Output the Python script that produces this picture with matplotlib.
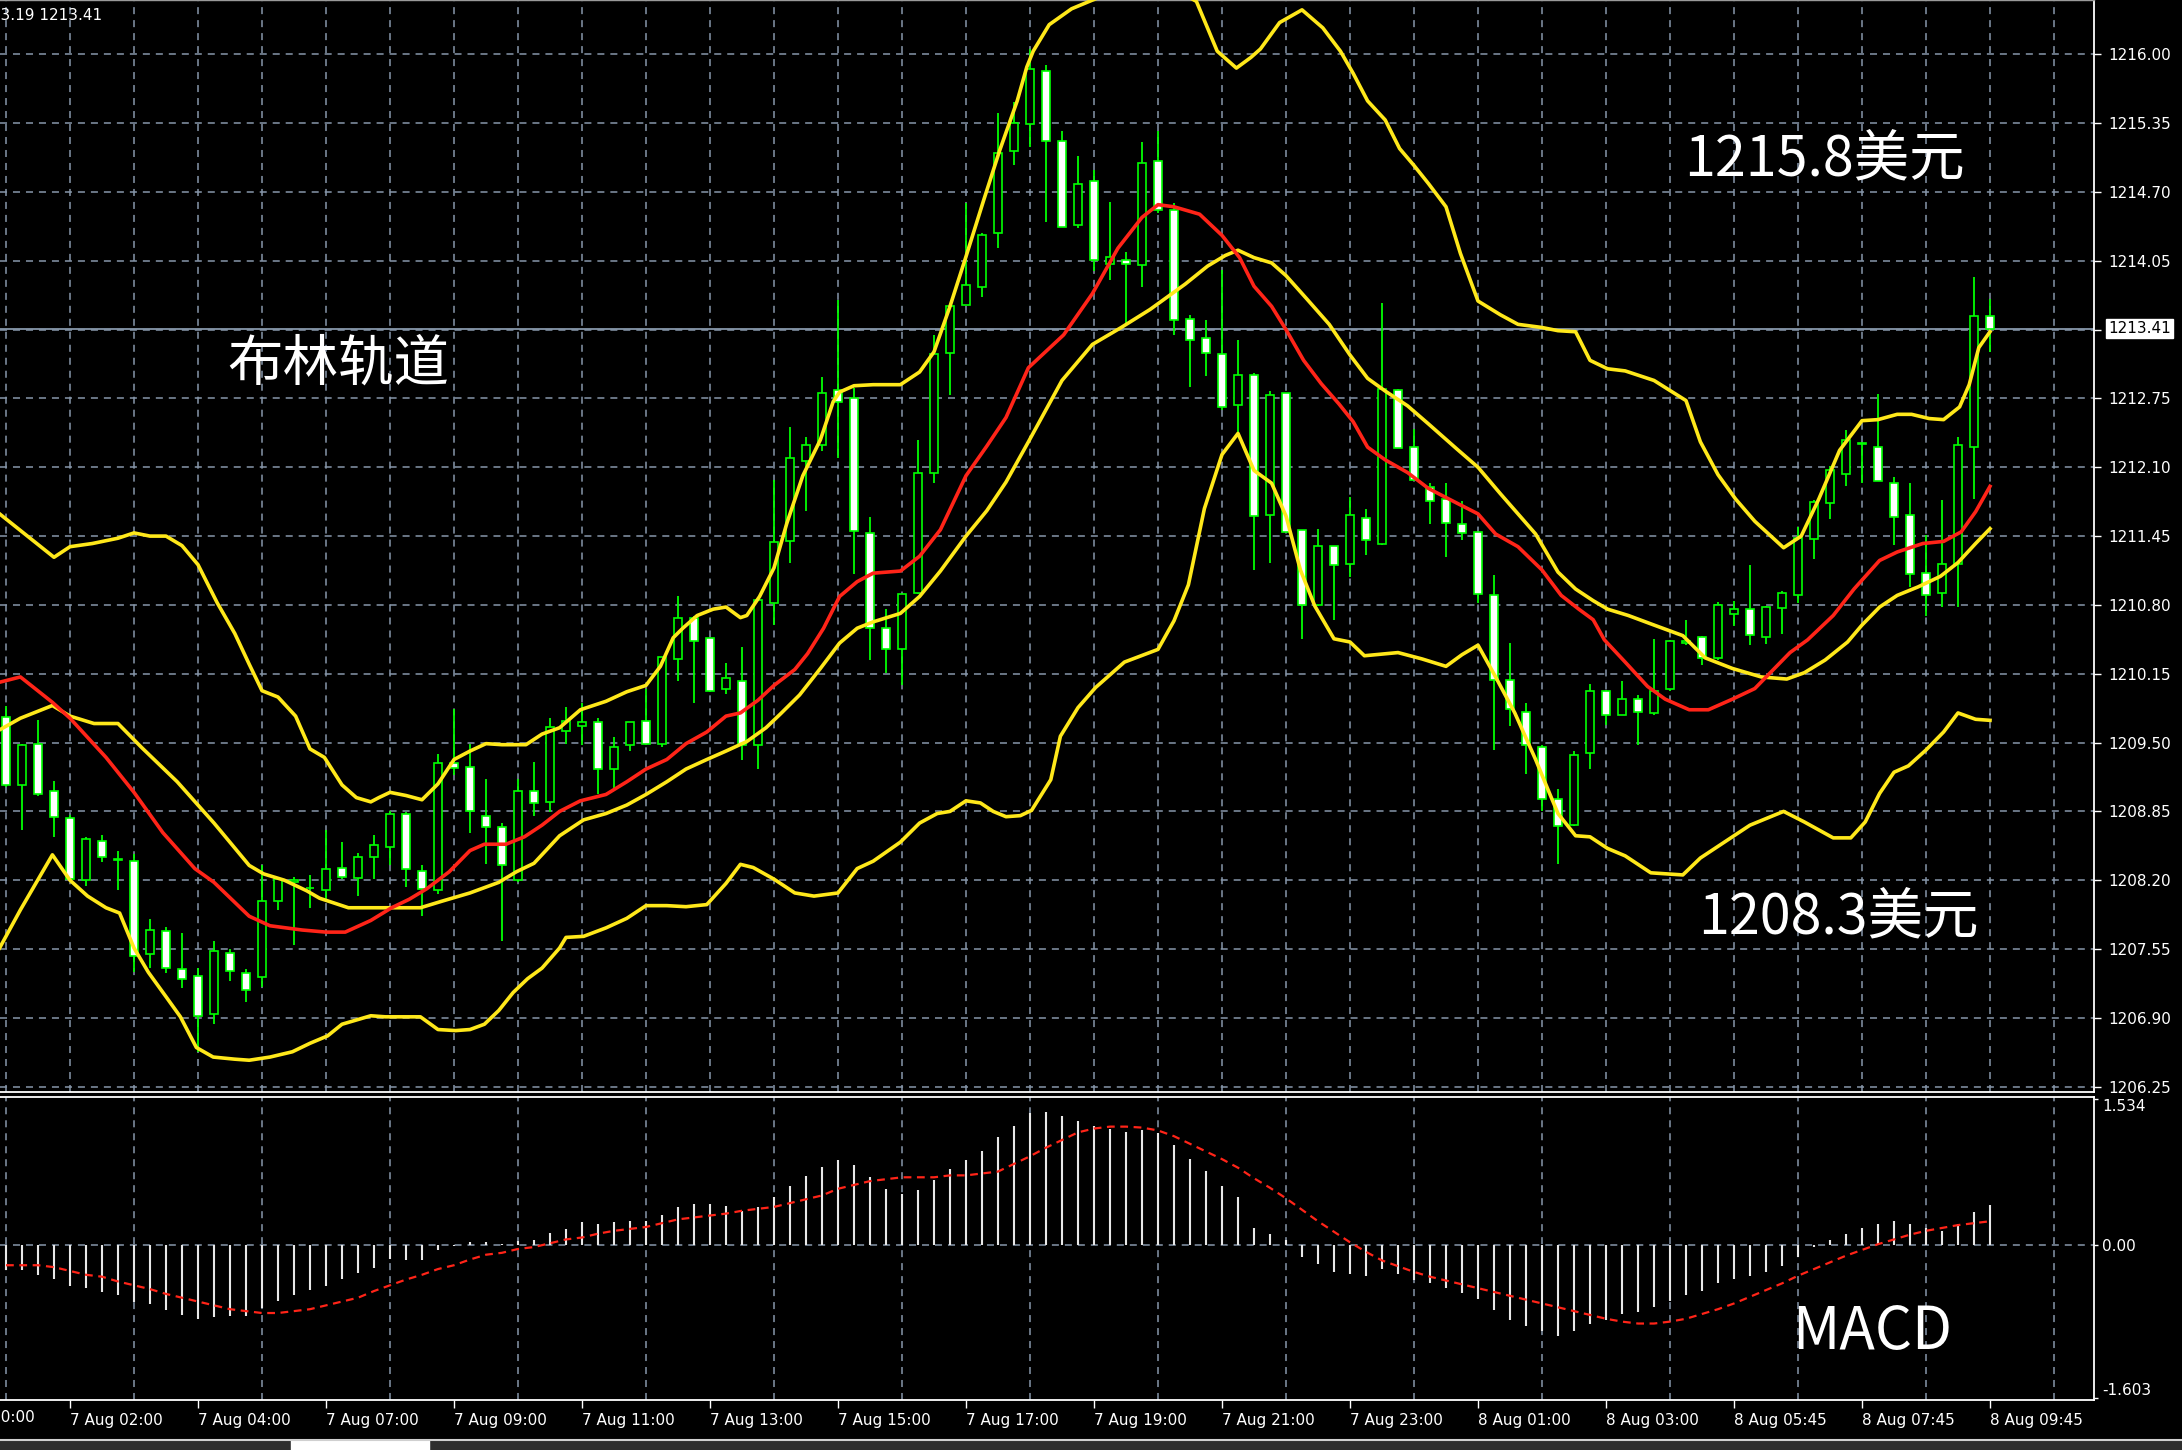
import numpy as np
import matplotlib.pyplot as plt
from matplotlib.patches import Rectangle
from matplotlib.lines import Line2D
from matplotlib.transforms import blended_transform_factory

plt.rcParams['font.family'] = ['DejaVu Sans', 'Noto Sans CJK SC']
CJK = ['Noto Sans CJK SC', 'DejaVu Sans']

# ---- 15 min candles (bar index 0 .. 124) ----
opens = [1209.74, 1209.10, 1209.49, 1209.04, 1208.79, 1208.20, 1208.57, 1208.40, 1208.38, 1207.50,
         1207.72, 1207.36, 1207.30, 1206.94, 1207.51, 1207.32, 1207.29, 1208.00, 1208.18, 1208.13,
         1208.11, 1208.32, 1208.22, 1208.42, 1208.51, 1208.83, 1208.29, 1208.11, 1209.31, 1209.27,
         1208.81, 1208.70, 1208.20, 1209.04, 1208.94, 1209.61, 1209.66, 1209.69, 1209.25, 1209.48,
         1209.70, 1209.49, 1210.29, 1210.68, 1210.49, 1210.01, 1210.08, 1209.48, 1210.82, 1211.40,
         1212.16, 1212.31, 1212.83, 1212.75, 1211.48, 1210.58, 1210.38, 1210.91, 1212.05, 1213.18,
         1213.63, 1213.80, 1214.31, 1215.09, 1215.34, 1215.84, 1215.18, 1214.39, 1214.80, 1214.02,
         1214.06, 1214.01, 1214.99, 1214.53, 1213.50, 1213.32, 1213.17, 1212.69, 1212.97, 1211.65,
         1212.80, 1211.51, 1210.80, 1211.36, 1211.19, 1211.62, 1211.38, 1212.83, 1212.29, 1211.91,
         1211.80, 1211.56, 1211.49, 1210.89, 1210.09, 1209.79, 1209.46, 1208.97, 1208.72, 1209.40,
         1209.99, 1209.76, 1209.91, 1209.78, 1210.01, 1210.44, 1210.50, 1210.30, 1210.71, 1210.76,
         1210.50, 1210.77, 1210.89, 1211.42, 1211.76, 1212.04, 1212.33, 1212.29, 1211.95, 1211.65,
         1211.10, 1210.91, 1211.19, 1212.29, 1213.53]
highs = [1209.85, 1209.49, 1209.71, 1209.14, 1208.82, 1208.61, 1208.63, 1208.48, 1208.45, 1207.83,
         1207.76, 1207.70, 1207.37, 1207.63, 1207.55, 1207.36, 1208.34, 1208.23, 1208.23, 1208.25,
         1208.67, 1208.56, 1208.46, 1208.63, 1208.85, 1208.84, 1208.34, 1209.39, 1209.82, 1209.49,
         1209.16, 1208.74, 1209.16, 1209.32, 1209.73, 1209.84, 1209.87, 1209.73, 1209.55, 1209.69,
         1210.01, 1210.31, 1210.88, 1210.70, 1210.49, 1210.25, 1210.40, 1210.85, 1211.98, 1212.48,
         1212.39, 1212.95, 1213.68, 1212.85, 1211.63, 1210.76, 1210.90, 1212.36, 1213.35, 1213.63,
         1214.60, 1214.31, 1215.45, 1215.55, 1216.05, 1215.90, 1215.28, 1215.04, 1214.91, 1214.61,
         1214.13, 1215.17, 1215.28, 1214.60, 1213.54, 1213.49, 1213.96, 1213.30, 1212.99, 1212.82,
         1212.80, 1211.51, 1211.52, 1211.36, 1211.82, 1211.71, 1213.65, 1212.84, 1212.46, 1211.95,
         1211.95, 1211.78, 1211.49, 1211.08, 1210.44, 1209.87, 1209.48, 1209.06, 1209.42, 1210.05,
         1210.00, 1210.08, 1209.95, 1210.48, 1210.47, 1210.66, 1210.51, 1210.83, 1210.84, 1211.18,
         1210.79, 1210.93, 1211.54, 1211.79, 1212.11, 1212.45, 1212.34, 1212.79, 1212.01, 1211.95,
         1211.46, 1211.79, 1212.39, 1213.90, 1213.69]
lows = [1209.08, 1208.67, 1209.00, 1208.61, 1208.20, 1208.15, 1208.37, 1208.11, 1207.33, 1207.37,
        1207.32, 1207.18, 1206.58, 1206.84, 1207.25, 1207.05, 1207.19, 1207.92, 1207.59, 1207.94,
        1207.99, 1208.21, 1208.05, 1208.21, 1208.34, 1208.14, 1207.86, 1208.07, 1209.19, 1208.65,
        1208.35, 1207.63, 1208.18, 1208.81, 1208.84, 1209.49, 1209.48, 1209.01, 1209.07, 1209.42,
        1209.48, 1209.46, 1210.08, 1209.87, 1209.98, 1209.96, 1209.34, 1209.25, 1210.61, 1211.20,
        1211.69, 1212.25, 1212.19, 1211.09, 1210.28, 1210.16, 1210.04, 1210.90, 1211.95, 1212.78,
        1213.63, 1213.71, 1214.17, 1214.95, 1215.12, 1214.42, 1214.37, 1214.36, 1213.95, 1213.87,
        1213.46, 1213.80, 1214.50, 1213.35, 1212.86, 1212.96, 1212.64, 1212.43, 1211.13, 1211.20,
        1211.49, 1210.48, 1210.79, 1210.66, 1211.06, 1211.27, 1211.37, 1212.28, 1211.98, 1211.56,
        1211.25, 1211.41, 1210.82, 1209.43, 1209.66, 1209.20, 1208.85, 1208.35, 1208.71, 1209.25,
        1209.67, 1209.76, 1209.48, 1209.76, 1209.99, 1210.42, 1210.23, 1210.28, 1210.60, 1210.42,
        1210.43, 1210.53, 1210.82, 1211.23, 1211.61, 1211.92, 1211.95, 1211.97, 1211.37, 1210.97,
        1210.70, 1210.78, 1210.78, 1211.80, 1213.19]
closes = [1209.10, 1209.48, 1209.01, 1208.80, 1208.21, 1208.59, 1208.42, 1208.39, 1207.48, 1207.73,
          1207.37, 1207.27, 1206.92, 1207.53, 1207.34, 1207.16, 1208.00, 1208.21, 1208.20, 1208.13,
          1208.31, 1208.23, 1208.42, 1208.53, 1208.83, 1208.31, 1208.12, 1209.31, 1209.26, 1208.85,
          1208.70, 1208.34, 1209.04, 1208.93, 1209.65, 1209.70, 1209.69, 1209.25, 1209.46, 1209.69,
          1209.49, 1210.31, 1210.68, 1210.46, 1209.99, 1210.11, 1209.48, 1210.85, 1211.39, 1212.19,
          1212.31, 1212.80, 1212.72, 1211.50, 1210.58, 1210.38, 1210.90, 1212.05, 1213.17, 1213.62,
          1213.82, 1214.29, 1215.07, 1215.35, 1215.86, 1215.18, 1214.37, 1214.78, 1214.06, 1214.09,
          1214.02, 1214.97, 1214.53, 1213.49, 1213.30, 1213.18, 1212.67, 1212.97, 1211.64, 1212.78,
          1211.49, 1210.80, 1211.36, 1211.18, 1211.65, 1211.41, 1212.84, 1212.28, 1211.98, 1211.78,
          1211.57, 1211.48, 1210.90, 1210.09, 1209.82, 1209.48, 1208.97, 1208.71, 1209.38, 1209.99,
          1209.76, 1209.91, 1209.79, 1209.99, 1210.46, 1210.46, 1210.30, 1210.80, 1210.76, 1210.52,
          1210.78, 1210.91, 1211.43, 1211.77, 1212.07, 1212.36, 1212.32, 1211.97, 1211.63, 1211.09,
          1210.89, 1211.19, 1212.31, 1213.53, 1213.41]

# ---- Bollinger bands (yellow) and red moving average, read at bar positions ----
upper_x = [-0.4, 3, 4, 5.4, 7, 8, 9, 10, 11, 12, 13.2, 14.3, 15.2, 16, 17, 18.1, 19, 19.9, 21, 21.9,
           22.8, 23.3, 24, 25, 26, 27, 28, 29, 30, 31, 32.5, 33.5, 34.6, 35.9, 37.5, 38.8, 40, 40.9,
           41.7, 42.3, 43.2, 44.2, 45, 45.9, 46.3, 47.1, 48, 48.8, 49.8, 50.9, 51.7, 52.1, 53, 54.2,
           55.9, 57.1, 58, 59, 60, 61.1, 62.1, 63.2, 63.8, 64.2, 65.2, 66.6, 68.5, 71.5, 74.4, 75.7,
           76.9, 77.8, 78.4, 79.6, 81, 82.3, 83.4, 84.2, 85.1, 86.2, 87.1, 88, 88.9, 90, 90.9, 92,
           93.4, 94.5, 96, 97, 98.1, 99, 100.1, 101.2, 103, 105, 105.9, 107, 108.1, 109.3, 111.1,
           112.2, 113.3, 114.6, 116, 117, 118.2, 119.1, 120.2, 121.1, 122.1, 122.7, 123.3, 124]
upper_y = [1211.66, 1211.25, 1211.35, 1211.38, 1211.43, 1211.48, 1211.45, 1211.45, 1211.36, 1211.18,
           1210.82, 1210.53, 1210.24, 1209.99, 1209.93, 1209.75, 1209.44, 1209.36, 1209.10, 1208.98,
           1208.94, 1208.98, 1209.03, 1209.00, 1208.96, 1209.11, 1209.34, 1209.42, 1209.49, 1209.48,
           1209.48, 1209.58, 1209.64, 1209.81, 1209.89, 1209.98, 1210.04, 1210.22, 1210.49, 1210.58,
           1210.70, 1210.76, 1210.78, 1210.68, 1210.70, 1210.88, 1211.15, 1211.57, 1212.02, 1212.36,
           1212.72, 1212.81, 1212.87, 1212.88, 1212.88, 1213.00, 1213.19, 1213.62, 1214.09, 1214.62,
           1215.09, 1215.56, 1215.88, 1216.03, 1216.28, 1216.43, 1216.55, 1216.75, 1216.50, 1216.03,
           1215.87, 1215.97, 1216.05, 1216.30, 1216.42, 1216.25, 1216.03, 1215.82, 1215.56, 1215.38,
           1215.11, 1214.95, 1214.78, 1214.56, 1214.12, 1213.67, 1213.54, 1213.45, 1213.42, 1213.39,
           1213.38, 1213.11, 1213.03, 1213.01, 1212.92, 1212.73, 1212.34, 1212.03, 1211.80, 1211.59,
           1211.34, 1211.45, 1211.80, 1212.26, 1212.54, 1212.55, 1212.60, 1212.60, 1212.56, 1212.55,
           1212.67, 1212.88, 1213.23, 1213.38]

middle_x = [-0.4, 0.9, 2.9, 4, 5.5, 7, 8.5, 10.7, 13, 15.2, 16.1, 17.4, 18.8, 19.6, 21.4, 24, 25.9,
            27.2, 29, 30.8, 31.9, 33, 34.6, 36.1, 37.5, 38.8, 40, 41.3, 42.5, 43.8, 45, 46.3, 47.5,
            48.4, 49.6, 50.9, 52.1, 53.2, 54.2, 55.9, 57.1, 58.4, 60, 61.3, 62.5, 63.9, 66, 67.9, 69.7,
            71.5, 73.7, 75.1, 76.2, 77, 78, 79.1, 80, 81.3, 82.7, 84, 85.1, 86.2, 87.6, 88.9, 90.7, 92,
            93.4, 94.5, 95.6, 97, 98.1, 99.2, 100.1, 101.4, 103, 104.8, 106.2, 107.9, 109.7, 111.3,
            112.4, 113.7, 115.1, 116, 117.1, 118.2, 119.5, 120.9, 122, 123.1, 124]
middle_y = [1209.62, 1209.73, 1209.85, 1209.75, 1209.68, 1209.68, 1209.45, 1209.13, 1208.74, 1208.34,
            1208.26, 1208.20, 1208.10, 1208.03, 1207.94, 1207.94, 1207.94, 1208.00, 1208.08, 1208.18,
            1208.28, 1208.36, 1208.62, 1208.77, 1208.83, 1208.91, 1209.01, 1209.13, 1209.25, 1209.34,
            1209.42, 1209.51, 1209.64, 1209.77, 1209.95, 1210.20, 1210.44, 1210.58, 1210.64, 1210.72,
            1210.88, 1211.12, 1211.45, 1211.69, 1211.96, 1212.34, 1212.92, 1213.26, 1213.42, 1213.59,
            1213.83, 1214.00, 1214.10, 1214.15, 1214.08, 1214.03, 1213.91, 1213.69, 1213.45, 1213.16,
            1212.94, 1212.82, 1212.68, 1212.51, 1212.27, 1212.10, 1211.85, 1211.66, 1211.47, 1211.11,
            1210.95, 1210.84, 1210.76, 1210.70, 1210.61, 1210.51, 1210.30, 1210.20, 1210.12, 1210.10,
            1210.16, 1210.28, 1210.45, 1210.61, 1210.78, 1210.89, 1210.97, 1211.07, 1211.20, 1211.38,
            1211.52]

lower_x = [-0.4, 0.9, 2.9, 4, 5.1, 6.25, 7.1, 8, 8.9, 10, 10.9, 11.9, 12.95, 14.3, 15.2, 16.5, 17.9,
           19, 20.1, 21, 21.9, 22.8, 23.7, 25.9, 27, 28.1, 29, 29.9, 30.8, 31.7, 32.6, 33.5, 34.6, 35,
           36.1, 37.5, 38.8, 40, 41.3, 42.5, 43.8, 45, 45.9, 46.7, 48, 49.3, 50.5, 52, 53.2, 54.2,
           55.9, 57.1, 58.2, 59, 60, 60.9, 61.7, 62.5, 63.4, 64.1, 65.3, 65.9, 67, 68.1, 69.9, 72, 73,
           73.9, 74.9, 76, 77, 78, 79.1, 80, 80.9, 81.8, 83, 84, 84.9, 87, 88.5, 90, 91, 92, 93.1,
           94.3, 95.6, 96.5, 97, 98.1, 99, 100.1, 101.2, 102.8, 104.8, 105.9, 107, 109, 111.1, 112.4,
           114.2, 115.3, 116.2, 117.1, 118, 118.9, 120, 121.1, 122, 123.1, 124]
lower_y = [1207.56, 1207.92, 1208.44, 1208.20, 1208.05, 1207.94, 1207.89, 1207.56, 1207.33, 1207.10,
           1206.91, 1206.62, 1206.53, 1206.51, 1206.50, 1206.53, 1206.58, 1206.66, 1206.73, 1206.84,
           1206.88, 1206.92, 1206.91, 1206.91, 1206.79, 1206.78, 1206.79, 1206.84, 1206.97, 1207.14,
           1207.27, 1207.37, 1207.56, 1207.66, 1207.67, 1207.75, 1207.84, 1207.96, 1207.96, 1207.95,
           1207.97, 1208.17, 1208.35, 1208.32, 1208.21, 1208.08, 1208.05, 1208.08, 1208.31, 1208.38,
           1208.56, 1208.74, 1208.83, 1208.85, 1208.95, 1208.93, 1208.85, 1208.80, 1208.81, 1208.86,
           1209.15, 1209.56, 1209.83, 1210.02, 1210.26, 1210.38, 1210.65, 1210.99, 1211.71, 1212.22,
           1212.42, 1212.07, 1211.95, 1211.64, 1211.13, 1210.79, 1210.48, 1210.45, 1210.32, 1210.35,
           1210.29, 1210.22, 1210.33, 1210.42, 1210.12, 1209.78, 1209.34, 1209.01, 1208.83, 1208.62,
           1208.61, 1208.50, 1208.43, 1208.27, 1208.25, 1208.41, 1208.52, 1208.72, 1208.85, 1208.75,
           1208.60, 1208.60, 1208.75, 1209.02, 1209.22, 1209.28, 1209.43, 1209.60, 1209.78, 1209.72,
           1209.71]

ma_x = [-0.4, 0.9, 2.9, 4, 6.25, 8, 9.8, 11.8, 13, 15.2, 16.5, 18.5, 20, 21.2, 22.8, 24.1, 25.2, 26.3,
        27.7, 29, 29.9, 31.25, 32.4, 33.5, 34.6, 35.9, 37.5, 38.8, 40, 41.3, 42.5, 43.8, 45, 45.9, 47,
        48, 49.3, 50.1, 51.1, 52.1, 53.2, 54.2, 55.9, 57.1, 58.4, 60, 61.3, 62.5, 63.9, 66.1, 67.9,
        69.5, 71, 72, 73, 74.6, 76, 77.1, 78, 79.1, 80, 81.1, 82.2, 83.3, 84.2, 85.1, 86.2, 87.6, 88.9,
        90.7, 92, 93.1, 94.5, 96, 97.2, 98.3, 99.2, 99.9, 101.2, 102.6, 103.7, 105.2, 106.4, 107.9,
        109.3, 110.4, 111.5, 112.6, 114.2, 115.5, 117.1, 118.2, 119.8, 121.1, 122.2, 123.1, 124]
ma_y = [1210.07, 1210.12, 1209.88, 1209.73, 1209.36, 1209.03, 1208.65, 1208.31, 1208.18, 1207.86,
        1207.77, 1207.73, 1207.71, 1207.71, 1207.82, 1207.94, 1208.02, 1208.12, 1208.28, 1208.48,
        1208.54, 1208.54, 1208.61, 1208.72, 1208.85, 1208.95, 1209.01, 1209.13, 1209.25, 1209.34,
        1209.49, 1209.60, 1209.75, 1209.78, 1209.90, 1210.04, 1210.19, 1210.34, 1210.58, 1210.88,
        1211.02, 1211.10, 1211.12, 1211.26, 1211.51, 1212.02, 1212.30, 1212.57, 1213.04, 1213.35,
        1213.74, 1214.17, 1214.46, 1214.58, 1214.56, 1214.49, 1214.29, 1214.08, 1213.81, 1213.62,
        1213.40, 1213.11, 1212.89, 1212.70, 1212.53, 1212.29, 1212.17, 1212.05, 1211.90, 1211.76,
        1211.66, 1211.47, 1211.35, 1211.13, 1210.89, 1210.76, 1210.66, 1210.47, 1210.26, 1210.03,
        1209.91, 1209.81, 1209.81, 1209.91, 1210.01, 1210.18, 1210.35, 1210.47, 1210.70, 1210.95,
        1211.22, 1211.30, 1211.38, 1211.40, 1211.49, 1211.68, 1211.92]

# ---- MACD ----
macd_hist = [-0.26, -0.26, -0.31, -0.35, -0.43, -0.45, -0.49, -0.52, -0.59, -0.62, -0.68, -0.73,
             -0.77, -0.75, -0.74, -0.74, -0.66, -0.58, -0.52, -0.47, -0.43, -0.35, -0.29, -0.24,
             -0.14, -0.16, -0.16, -0.05, -0.01, 0.03, 0.03, 0.01, 0.04, 0.05, 0.13, 0.17, 0.24,
             0.22, 0.24, 0.25, 0.25, 0.32, 0.40, 0.43, 0.43, 0.41, 0.36, 0.40, 0.50, 0.62, 0.72,
             0.82, 0.89, 0.84, 0.71, 0.59, 0.53, 0.58, 0.68, 0.80, 0.89, 0.99, 1.13, 1.25, 1.38,
             1.39, 1.35, 1.30, 1.25, 1.22, 1.18, 1.20, 1.17, 1.05, 0.90, 0.78, 0.62, 0.50, 0.18,
             0.12, 0.05, -0.12, -0.20, -0.28, -0.30, -0.32, -0.25, -0.30, -0.36, -0.40, -0.45,
             -0.50, -0.56, -0.68, -0.78, -0.85, -0.90, -0.95, -0.90, -0.82, -0.78, -0.72, -0.70,
             -0.65, -0.58, -0.52, -0.48, -0.40, -0.35, -0.32, -0.28, -0.22, -0.12, -0.02, 0.05,
             0.12, 0.18, 0.22, 0.25, 0.22, 0.18, 0.15, 0.22, 0.35, 0.42]
macd_signal = [-0.21, -0.21, -0.21, -0.23, -0.27, -0.31, -0.33, -0.38, -0.42, -0.46, -0.51, -0.55,
               -0.59, -0.63, -0.67, -0.69, -0.71, -0.71, -0.69, -0.67, -0.63, -0.59, -0.55, -0.48,
               -0.42, -0.36, -0.31, -0.25, -0.21, -0.15, -0.10, -0.08, -0.04, -0.02, 0.02, 0.06,
               0.08, 0.12, 0.15, 0.17, 0.19, 0.23, 0.27, 0.29, 0.31, 0.33, 0.36, 0.38, 0.40, 0.44,
               0.48, 0.52, 0.59, 0.63, 0.67, 0.69, 0.71, 0.71, 0.71, 0.73, 0.73, 0.75, 0.77, 0.85,
               0.93, 1.02, 1.10, 1.18, 1.22, 1.24, 1.24, 1.23, 1.20, 1.14, 1.06, 0.98, 0.90, 0.81,
               0.70, 0.60, 0.49, 0.37, 0.25, 0.14, 0.03, -0.07, -0.16, -0.22, -0.28, -0.33, -0.37,
               -0.41, -0.45, -0.49, -0.53, -0.57, -0.61, -0.65, -0.69, -0.73, -0.77, -0.80, -0.82,
               -0.82, -0.80, -0.77, -0.72, -0.67, -0.61, -0.54, -0.47, -0.40, -0.32, -0.25, -0.18,
               -0.11, -0.05, 0.01, 0.06, 0.11, 0.15, 0.18, 0.21, 0.23, 0.25]

price_ticks = [1206.25, 1206.90, 1207.55, 1208.20, 1208.85, 1209.50, 1210.15, 1210.80, 1211.45,
               1212.10, 1212.75, 1213.40, 1214.05, 1214.70, 1215.35, 1216.00]
last_price = 1213.41
time_bars = [4, 12, 20, 28, 36, 44, 52, 60, 68, 76, 84, 92, 100, 108, 116, 124]
time_labels = ['7 Aug 02:00', '7 Aug 04:00', '7 Aug 07:00', '7 Aug 09:00', '7 Aug 11:00',
               '7 Aug 13:00', '7 Aug 15:00', '7 Aug 17:00', '7 Aug 19:00', '7 Aug 21:00',
               '7 Aug 23:00', '8 Aug 01:00', '8 Aug 03:00', '8 Aug 05:45', '8 Aug 07:45',
               '8 Aug 09:45']

W, H = 2182, 1450
GRID = '#8797aa'
GREEN = '#00ff00'
YELLOW = '#ffe81a'
RED = '#ff2418'

fig = plt.figure(figsize=(W / 100, H / 100), dpi=100, facecolor='black')
ax = fig.add_axes([0, 1 - 1092 / H, 2094 / W, 1092 / H], facecolor='black')
ax2 = fig.add_axes([0, 1 - 1400 / H, 2094 / W, 303 / H], facecolor='black')

xlim = (-0.375, 130.5)
dash = (0, (4.6, 3.9))

# main price panel
x = np.arange(len(opens))
o = np.array(opens)
c = np.array(closes)
bull = c >= o
ax.vlines(x, lows, highs, color=GREEN, lw=1.3, zorder=2)
ax.bar(x, np.abs(c - o), bottom=np.minimum(o, c), width=0.56,
       color=np.where(bull, 'black', 'white'), edgecolor=GREEN, linewidth=1.2, zorder=3)

ax.plot(upper_x, upper_y, color=YELLOW, lw=2.6, zorder=4)
ax.plot(lower_x, lower_y, color=YELLOW, lw=2.6, zorder=4)
ax.plot(middle_x, middle_y, color=YELLOW, lw=2.6, zorder=4)
ax.plot(ma_x, ma_y, color=RED, lw=2.6, zorder=5)

ax.axhline(last_price, color=GRID, lw=1.3, zorder=1)

ax.set_xlim(*xlim)
ax.set_ylim(1206.20, 1216.513)
ax.set_xticks(np.arange(0, 129, 4))
ax.set_yticks(price_ticks)
ax.set_yticklabels(['' if abs(t - 1213.40) < 0.01 else f'{t:.2f}' for t in price_ticks])
ax.yaxis.tick_right()
ax.tick_params(axis='x', length=0, labelbottom=False)
ax.tick_params(axis='y', colors='white', length=5, width=1, pad=5, labelsize=11)
ax.grid(True, color=GRID, lw=1.1, ls=dash, zorder=0)
ax.set_axisbelow(True)
for side in ['left']:
    ax.spines[side].set_visible(False)
ax.spines['top'].set_color('#9a9a9a')
ax.spines['top'].set_linewidth(1.0)
for side in ['right', 'bottom']:
    ax.spines[side].set_color('white')
    ax.spines[side].set_linewidth(1.3)

tr = blended_transform_factory(ax.transAxes, ax.transData)
ax.text(1.0067, last_price, f'{last_price:.2f}', transform=tr, ha='left', va='center',
        color='black', fontsize=11,
        bbox=dict(boxstyle='square,pad=0.15', fc='white', ec='white'))

# MACD panel
ax2.vlines(x, 0, macd_hist, color='#e8e8e8', lw=1.5, zorder=2)
ax2.plot(x, macd_signal, color=RED, lw=1.6, ls=(0, (3.5, 2.5)), zorder=3)
ax2.axhline(0, color=GRID, lw=1.1, ls=dash, zorder=0)
ax2.set_xlim(*xlim)
ax2.set_ylim(-1.62, 1.55)
ax2.set_xticks(time_bars)
ax2.set_xticklabels(time_labels, ha='left')
ax2.set_xticks(np.arange(0, 129, 4), minor=True)
ax2.grid(True, which='minor', axis='x', color=GRID, lw=1.1, ls=dash, zorder=0)
ax2.tick_params(axis='x', which='major', colors='white', length=6, width=1, pad=3, labelsize=11)
ax2.tick_params(axis='x', which='minor', length=0)
ax2.set_yticks([1.534, 0, -1.603])
ax2.set_yticklabels(['1.534', '0.00', '-1.603'])
ax2.yaxis.tick_right()
ax2.tick_params(axis='y', colors='white', length=3, width=1, pad=3, labelsize=11)
ylbl = ax2.get_yticklabels()
ylbl[0].set_va('top')
ylbl[2].set_va('bottom')
ax2.spines['left'].set_visible(False)
for side in ['right', 'bottom', 'top']:
    ax2.spines[side].set_color('white')
    ax2.spines[side].set_linewidth(1.3)
ax2.text(-4, -0.033, '7 Aug 00:00', transform=ax2.get_xaxis_transform(), ha='left', va='top',
         color='white', fontsize=11)

# annotations
fig.text(227 / W, 1 - 365 / H, '布林轨道', color='white', fontsize=40, ha='left', va='center',
         family=CJK)
fig.text(1684 / W, 1 - 160 / H, '1215.8美元', color='white', fontsize=40, ha='left', va='center',
         family=CJK)
fig.text(1698 / W, 1 - 918 / H, '1208.3美元', color='white', fontsize=40, ha='left', va='center',
         family=CJK)
fig.text(1792 / W, 1 - 1333 / H, 'MACD', color='white', fontsize=42, ha='left', va='center',
         family=CJK)
fig.text(102 / W, 1 - 15 / H, '1213.53 1213.69 1213.19 1213.41', color='white', fontsize=11,
         ha='right', va='center')

# terminal strip at the bottom
fig.add_artist(Rectangle((0, 0), 1, 10 / H, transform=fig.transFigure, color='#2e2e2e'))
fig.add_artist(Rectangle((291 / W, 0), 138 / W, 10 / H, transform=fig.transFigure, color='white'))
fig.add_artist(Line2D([0, 1], [10 / H, 10 / H], transform=fig.transFigure, color='#d0d0d0', lw=1.5))

fig.savefig('out.png', dpi=100, facecolor='black')
